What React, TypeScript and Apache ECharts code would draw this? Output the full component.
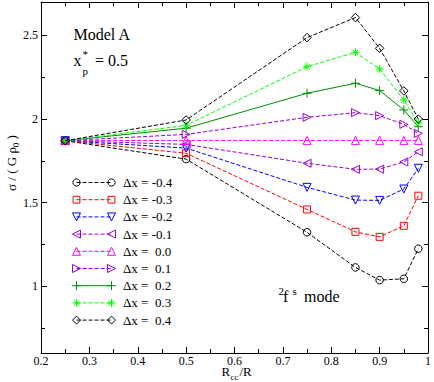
import React, { useEffect, useRef } from 'react';
import * as echarts from 'echarts';

// ---- data ----
const rcc = [0.25, 0.5, 0.75, 0.85, 0.9, 0.95, 0.98];
const dxM04 = [1.87, 1.76, 1.322, 1.112, 1.036, 1.044, 1.224];
const dxM03 = [1.87, 1.795, 1.459, 1.325, 1.295, 1.361, 1.541];
const dxM02 = [1.87, 1.826, 1.591, 1.515, 1.513, 1.581, 1.705];
const dxM01 = [1.87, 1.848, 1.735, 1.699, 1.7, 1.743, 1.804];
const dx00 = [1.87, 1.872, 1.872, 1.872, 1.872, 1.872, 1.872];
const dxP01 = [1.87, 1.908, 2.01, 2.038, 2.02, 1.968, 1.914];
const dxP02 = [1.87, 1.945, 2.154, 2.214, 2.17, 2.054, 1.954];
const dxP03 = [1.87, 1.962, 2.313, 2.399, 2.299, 2.114, 1.978];
const dxP04 = [1.87, 1.994, 2.487, 2.607, 2.423, 2.168, 2.0];
const seriesValues = [dxM04, dxM03, dxM02, dxM01, dx00, dxP01, dxP02, dxP03, dxP04];
const seriesLabels = [
  'Δx = -0.4', 'Δx = -0.3', 'Δx = -0.2', 'Δx = -0.1', 'Δx = \u00a00.0',
  'Δx = \u00a00.1', 'Δx = \u00a00.2', 'Δx = \u00a00.3', 'Δx = \u00a00.4',
];
const yMajorTicks = [1, 1.5, 2, 2.5];
const yMinorTicks = [0.75, 1.25, 1.75, 2.25];

// ---- styles ----
const FONT = 'Liberation Serif, serif';
type Mk = 'circle' | 'square' | 'down' | 'left' | 'up' | 'right' | 'plus' | 'star' | 'diamond';
const markStyles: { mk: Mk; color: string; dashed: boolean }[] = [
  { mk: 'circle', color: '#000000', dashed: true },
  { mk: 'square', color: '#ff0000', dashed: true },
  { mk: 'down', color: '#0000ff', dashed: true },
  { mk: 'left', color: '#9400d3', dashed: true },
  { mk: 'up', color: '#ff00ff', dashed: true },
  { mk: 'right', color: '#9400d3', dashed: true },
  { mk: 'plus', color: '#008b00', dashed: false },
  { mk: 'star', color: '#00ff00', dashed: true },
  { mk: 'diamond', color: '#000000', dashed: true },
];
const DASH = [4, 2];

function symbolOf(mk: Mk) {
  switch (mk) {
    case 'circle': return { symbol: 'circle', size: 7.5, rot: 0 };
    case 'square': return { symbol: 'rect', size: 7, rot: 0 };
    case 'down': return { symbol: 'triangle', size: 8, rot: 180 };
    case 'left': return { symbol: 'triangle', size: 8, rot: 90 };
    case 'up': return { symbol: 'triangle', size: 8, rot: 0 };
    case 'right': return { symbol: 'triangle', size: 8, rot: -90 };
    case 'plus': return { symbol: 'path://M5,0L5,10M0,5L10,5', size: 9, rot: 0 };
    case 'star': return { symbol: 'path://M5,0L5,10M0,5L10,5M1.5,1.5L8.5,8.5M8.5,1.5L1.5,8.5', size: 8, rot: 0 };
    case 'diamond': return { symbol: 'diamond', size: 8.5, rot: 0 };
  }
}

function legendMarker(mk: Mk, cx: number, cy: number, c: string): any[] {
  const st = { fill: 'none', stroke: c, lineWidth: 1 };
  const h = 4;
  switch (mk) {
    case 'circle': return [{ type: 'circle', shape: { cx, cy, r: 3.6 }, style: st }];
    case 'square': return [{ type: 'rect', shape: { x: cx - 3.4, y: cy - 3.4, width: 6.8, height: 6.8 }, style: st }];
    case 'down': return [{ type: 'polygon', shape: { points: [[cx - h, cy - h], [cx + h, cy - h], [cx, cy + h]] }, style: st }];
    case 'up': return [{ type: 'polygon', shape: { points: [[cx - h, cy + h], [cx + h, cy + h], [cx, cy - h]] }, style: st }];
    case 'left': return [{ type: 'polygon', shape: { points: [[cx + h, cy - h], [cx + h, cy + h], [cx - h, cy]] }, style: st }];
    case 'right': return [{ type: 'polygon', shape: { points: [[cx - h, cy - h], [cx - h, cy + h], [cx + h, cy]] }, style: st }];
    case 'diamond': return [{ type: 'polygon', shape: { points: [[cx, cy - h], [cx + h, cy], [cx, cy + h], [cx - h, cy]] }, style: st }];
    case 'plus': return [
      { type: 'line', shape: { x1: cx - 4.5, y1: cy, x2: cx + 4.5, y2: cy }, style: st },
      { type: 'line', shape: { x1: cx, y1: cy - 4.5, x2: cx, y2: cy + 4.5 }, style: st },
    ];
    case 'star': return [
      { type: 'line', shape: { x1: cx - 4, y1: cy, x2: cx + 4, y2: cy }, style: st },
      { type: 'line', shape: { x1: cx, y1: cy - 4, x2: cx, y2: cy + 4 }, style: st },
      { type: 'line', shape: { x1: cx - 2.8, y1: cy - 2.8, x2: cx + 2.8, y2: cy + 2.8 }, style: st },
      { type: 'line', shape: { x1: cx + 2.8, y1: cy - 2.8, x2: cx - 2.8, y2: cy + 2.8 }, style: st },
    ];
  }
  return [];
}

function txt(text: string, x: number, y: number, size: number, align = 'left', extra: any = {}) {
  return {
    type: 'text', x, y, z: 100,
    style: { text, fontSize: size, fontFamily: FONT, fill: '#000', align, verticalAlign: 'middle', ...extra },
  };
}

export default function App() {
  const ref = useRef<HTMLDivElement>(null);
  useEffect(() => {
    if (!ref.current) return;
    const chart = echarts.init(ref.current, undefined, { renderer: 'svg' });

    const axisLine = { show: true, lineStyle: { color: '#000', width: 1 } };
    const labelStyle = { fontFamily: FONT, fontSize: 12, color: '#000' };

    const xCommon = {
      type: 'value', min: 0.2, max: 1, interval: 0.1,
      axisLine,
      axisTick: { show: true, inside: true, length: 6, lineStyle: { color: '#000' } },
      minorTick: { show: true, splitNumber: 2, length: 4, lineStyle: { color: '#000' } },
      splitLine: { show: false },
    };
    const yBase = { type: 'value', min: 0.6, max: 2.7, splitLine: { show: false } };

    const series = seriesValues.map((vals, i) => {
      const ms = markStyles[i];
      const s = symbolOf(ms.mk)!;
      return {
        type: 'line',
        name: seriesLabels[i],
        xAxisIndex: 0, yAxisIndex: 0,
        data: rcc.map((x, j) => [x, vals[j]]),
        symbol: s.symbol, symbolSize: s.size, symbolRotate: s.rot,
        showSymbol: true,
        lineStyle: { color: ms.color, width: 1, type: ms.dashed ? DASH : 'solid' },
        itemStyle: { color: 'none', borderColor: ms.color, borderWidth: 1 },
        emphasis: { disabled: true },
        z: 2 + i,
      };
    });

    const legendEls: any[] = [];
    const lx1 = 76.5, lx2 = 111.5, ly0 = 182.5, ldy = 17.2;
    seriesLabels.forEach((lab, i) => {
      const ms = markStyles[i];
      const cy = ly0 + i * ldy;
      legendEls.push({
        type: 'line', z: 100,
        shape: { x1: lx1, y1: cy, x2: lx2, y2: cy },
        style: { stroke: ms.color, lineWidth: 1, lineDash: ms.dashed ? DASH : null },
      });
      legendMarker(ms.mk, lx1, cy, ms.color).forEach((e) => legendEls.push({ ...e, z: 101 }));
      legendMarker(ms.mk, lx2, cy, ms.color).forEach((e) => legendEls.push({ ...e, z: 101 }));
      legendEls.push(txt(lab, 123, cy, 13));
    });

    const annot: any[] = [
      txt('Model A', 73.5, 34, 16),
      txt('x', 73.5, 60.5, 16),
      txt('p', 82.5, 70.5, 11),
      txt('*', 82.5, 54, 11),
      txt('= 0.5', 95, 60.5, 16),
      txt('2', 278.5, 290.5, 11),
      txt('f', 283, 296, 16),
      txt('s', 292.5, 290.5, 11),
      txt('mode', 304, 296, 16),
      txt('R', 221.5, 371.5, 13),
      txt('cc', 230.5, 377, 9),
      txt('/R', 239.5, 371.5, 13),
      {
        type: 'text', x: 11, y: 163, rotation: Math.PI / 2, z: 100,
        style: {
          text: '{a|σ / ( G ρ}{s|0}{a| )}',
          align: 'center', verticalAlign: 'middle',
          rich: {
            a: { fontSize: 13, fontFamily: FONT, fill: '#000' },
            s: { fontSize: 9, fontFamily: FONT, fill: '#000', padding: [9, 0, 0, 0] },
          },
        },
      },
    ];

    chart.setOption({
      animation: false,
      backgroundColor: '#fff',
      grid: { left: 41, right: 4, top: 2, bottom: 29, containLabel: false },
      xAxis: [
        { ...xCommon, position: 'bottom', axisLabel: { ...labelStyle, margin: 2 } },
        { ...xCommon, position: 'top', axisLabel: { show: false } },
      ],
      yAxis: [
        {
          ...yBase, position: 'left', axisLine,
          axisTick: { show: true, inside: true, length: 6, customValues: yMajorTicks, lineStyle: { color: '#000' } },
          axisLabel: { ...labelStyle, margin: 3, customValues: yMajorTicks },
        },
        {
          ...yBase, position: 'left', axisLine: { show: false },
          axisTick: { show: true, inside: true, length: 4, customValues: yMinorTicks, lineStyle: { color: '#000' } },
          axisLabel: { show: false },
        },
        {
          ...yBase, position: 'right', axisLine,
          axisTick: { show: true, inside: true, length: 6, customValues: yMajorTicks, lineStyle: { color: '#000' } },
          axisLabel: { show: false },
        },
        {
          ...yBase, position: 'right', axisLine: { show: false },
          axisTick: { show: true, inside: true, length: 4, customValues: yMinorTicks, lineStyle: { color: '#000' } },
          axisLabel: { show: false },
        },
      ],
      series,
      graphic: [...legendEls, ...annot],
    });
    return () => chart.dispose();
  }, []);
  return <div ref={ref} style={{ width: 434, height: 382, position: 'fixed', left: 0, top: 0 }} />;
}
